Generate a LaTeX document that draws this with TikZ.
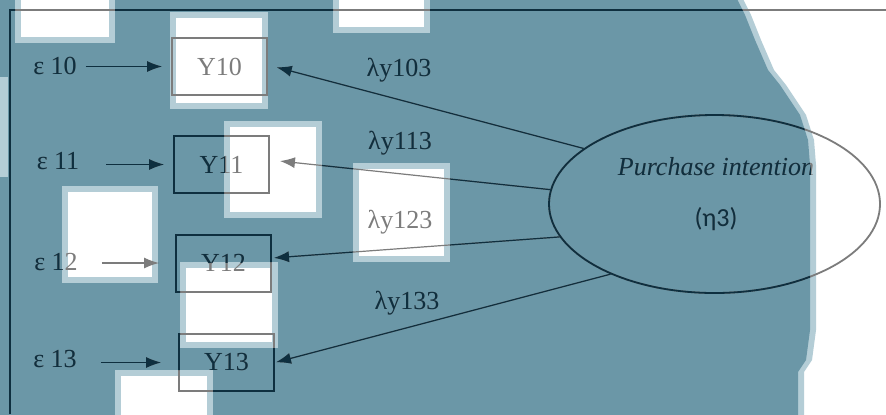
\documentclass[tikz,border=0pt]{standalone}
\usepackage{fontspec}
\setmainfont{Liberation Serif}
\newfontfamily\calibfont{Carlito}
\usetikzlibrary{arrows.meta,calc,shapes.geometric}

\definecolor{tealbg}{HTML}{6B97A7}
\definecolor{palebg}{HTML}{B4CDD6}
\definecolor{inkdark}{HTML}{0E2F3F}
\definecolor{inkgray}{HTML}{7C7C7C}

\newcommand\tealshape{(-5,-5) -- (735,-5) -- (745,15) -- (755,40) -- (768,70) -- (780,85)
  -- (790,100) -- (800,115) -- (808,140) -- (810,165) -- (810,330) -- (806,360)
  -- (798,372) -- (798,420) -- (-5,420) -- cycle}
\def\squarelist{15/-10/115/43, 170/12/268/109, 333/-10/430/33, 224/121/322/218,
  62/186/158/283, 353/163/450/262, 180/262/278/348, 115/370/213/424}
\newcommand\squarepath{(15,-10) rectangle (115,43) (170,12) rectangle (268,109)
  (333,-10) rectangle (430,33) (224,121) rectangle (322,218) (62,186) rectangle (158,283)
  (353,163) rectangle (450,262) (180,262) rectangle (278,348) (115,370) rectangle (213,424)}

\newcommand\drawmodel[1]{%
\begin{scope}[color=#1]
\draw[frame] (9.5,414) -- (9.5,10) -- (886,10);
\node[obs] (y10) at (219.5,66.5) {Y10};
\node[obs] (y11) at (221.5,164.5) {Y11};
\node[obs] (y12) at (223.5,263) {Y12};
\node[obs] (y13) at (226.5,362.5) {Y13};
\node (e10) at (55,66) {ε 10};
\node (e11) at (58,161) {ε 11};
\node (e12) at (56,262) {ε 12};
\node (e13) at (55,359) {ε 13};
\draw[link, shorten <=1pt, shorten >=4.5pt] (e10.east |- y10.west) -- (y10.west);
\draw[link, shorten <=10pt, shorten >=4.5pt] (e11.east |- y11.west) -- (y11.west);
\draw[link, shorten <=8.5pt, shorten >=8pt] (e12.east |- y12.west) -- (y12.west);
\draw[link, shorten <=8.5pt, shorten >=8.5pt] (e13.east |- y13.west) -- (y13.west);
\node[latent] (pi) at (714.5,204) {};
\node (pilabel) at (716,167) {\itshape Purchase intention};
\node (eta) at (716,219) {\calibfont(η3)};
\draw[link, shorten >=4.5pt] (pi.157.5) -- ([yshift=0.75pt]y10.east);
\draw[link, shorten >=5pt] (pi.175) -- ([yshift=2.25pt]y11.east);
\draw[link, shorten >=1pt] (pi.192) -- ([yshift=2.5pt]y12.east);
\draw[link, shorten >=0.5pt] (pi.214.5) -- (y13.east);
\node (l103) at (399,70) {λy103};
\node (l113) at (400,143) {λy113};
\node (l123) at (400,222) {λy123};
\node (l133) at (407,303) {λy133};
\end{scope}}

\begin{document}
\begin{tikzpicture}[x=0.5pt,y=-0.5pt,font=\fontsize{13}{15}\selectfont,
  frame/.style={line width=1pt},
  obs/.style={draw,line width=1pt,minimum width=47.5pt,minimum height=28.5pt,inner sep=0pt},
  latent/.style={draw,ellipse,line width=0.9pt,minimum width=165.5pt,minimum height=89pt,inner sep=0pt},
  link/.style={line width=0.6pt,-{Latex[length=7.5pt,width=5.5pt]}}]
\useasboundingbox (0,0) rectangle (886,414);
\fill[white] (0,0) rectangle (886,414);
\fill[palebg, xshift=3pt] \tealshape;
\fill[tealbg] \tealshape;
\fill[palebg] (0,77) rectangle (8,177);
\foreach \a/\b/\c/\d in \squarelist {
  \fill[palebg] (\a,\b) rectangle (\c,\d);
  \fill[white] (\a+6,\b+6) rectangle (\c-6,\d-6);
}
\drawmodel{inkgray}
\begin{scope}[even odd rule]
\clip \tealshape \squarepath;
\drawmodel{inkdark}
\end{scope}
\end{tikzpicture}
\end{document}
